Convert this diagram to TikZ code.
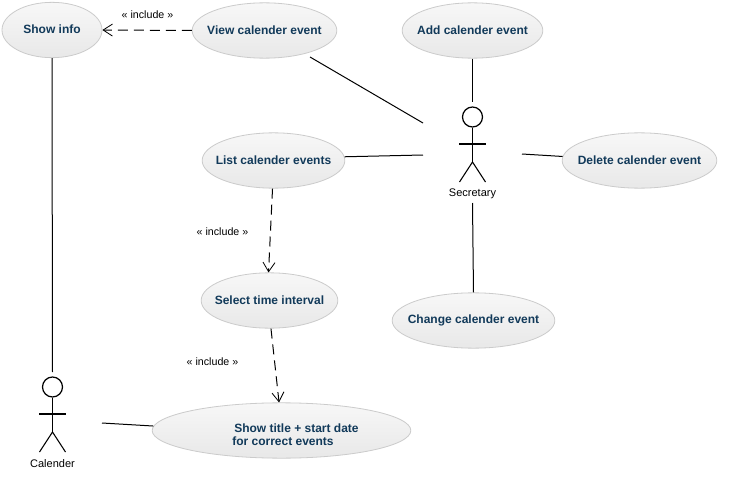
\documentclass[tikz,border=0pt]{standalone}
\usepackage{fontspec}
\setmainfont{Liberation Sans}
\usetikzlibrary{shapes.geometric,arrows.meta}
\definecolor{ucText}{HTML}{123A5A}
\definecolor{ucEdge}{HTML}{CBCBCB}
\newcommand{\casename}[1]{\raisebox{1pt}{\makebox[0pt][c]{#1}}}
\tikzset{
  x=0.75pt,y=-0.75pt,
  usecase/.style={ellipse,draw=ucEdge,line width=0.6pt,top color=white!97!black,bottom color=white!91!black,
     inner sep=0pt,text=ucText,font=\bfseries\fontsize{9}{10}\selectfont},
  caseText/.style={text=ucText,font=\bfseries\fontsize{9}{9.75}\selectfont,align=left,inner sep=0pt},
  assoc/.style={draw=black,line width=0.75pt},
  incl/.style={draw=black,line width=0.75pt,dash pattern=on 7.5pt off 4.5pt,-{Straight Barb[length=7pt,width=9pt,line width=0.6pt]}},
  stereo/.style={font=\fontsize{8}{9}\selectfont,inner sep=0pt},
  actorName/.style={font=\fontsize{8.25}{10}\selectfont,inner sep=0pt},
  head/.style={circle,draw=black,line width=0.9pt,minimum size=15pt,inner sep=0pt},
  limb/.style={draw=black,line width=0.8pt}
}
\begin{document}
\begin{tikzpicture}
\useasboundingbox[fill=white] (0,0) rectangle (736,492);
% use cases
\node[usecase,minimum width=75pt,minimum height=41.5pt] (info) at (52,30) {\casename{Show info}};
\node[usecase,minimum width=108.5pt,minimum height=41.5pt] (view) at (264.5,30.5) {\casename{View calender event}};
\node[usecase,minimum width=105.5pt,minimum height=41.5pt] (add) at (472.5,30.5) {\casename{Add calender event}};
\node[usecase,minimum width=107pt,minimum height=41.5pt] (list) at (273.5,160.5) {\casename{List calender events}};
\node[usecase,minimum width=116pt,minimum height=41.5pt] (delete) at (639.5,160.5) {\casename{Delete calender event}};
\node[usecase,minimum width=102.5pt,minimum height=41.5pt] (select) at (269.5,300.5) {\casename{Select time interval}};
\node[usecase,minimum width=122pt,minimum height=41.5pt] (change) at (473.5,320.5) {\casename{Change calender event}};
\node[usecase,minimum width=194pt,minimum height=41.5pt] (title) at (281.5,430.5) {};
\node[caseText,anchor=west] (titletext) at (232,434.5) {\,Show title + start date\\for correct events};
% Secretary actor
\node[head] (sechead) at (472.5,117) {};
\coordinate (secneck) at (472.5,162);
\draw[limb] (sechead.south) -- (secneck);
\draw[limb] (459,144) -- (485.5,144);
\draw[limb] (459.5,182) -- (secneck) -- (485.5,182);
\node[actorName] (secname) at (472.5,194) {Secretary};
\coordinate (sectop) at (472.5,102);
\coordinate (secbot) at (472.5,203);
\coordinate (secupleft) at (423,123);
\coordinate (secleft) at (423,155);
\coordinate (secright) at (522,154);
% Calender actor
\node[head] (calhead) at (52.5,387) {};
\coordinate (calneck) at (52.5,432);
\draw[limb] (calhead.south) -- (calneck);
\draw[limb] (39,414) -- (65.5,414);
\draw[limb] (39.5,452) -- (calneck) -- (65.5,452);
\node[actorName] (calname) at (52.5,463.5) {Calender};
\coordinate (caltop) at (52.5,372);
\coordinate (calright) at (102,423);
\coordinate (viewend) at (310,57);
% associations
\draw[assoc] (info.south) -- (caltop);
\draw[assoc] (viewend) -- (secupleft);
\draw[assoc] (add.south) -- (sectop);
\draw[assoc] (list.3) -- (secleft);
\draw[assoc] (delete.177) -- (secright);
\draw[assoc] (change.north) -- (secbot);
\draw[assoc] (calright) -- (title.178);
% includes
\draw[incl] (view.west) -- (info.east);
\draw[incl] (list.-92) -- (select.92);
\draw[incl] (select.-87) -- (title.95);
\node[stereo] (inc1) at (147.5,15) {« include »};
\node[stereo] (inc2) at (222.5,231.5) {« include »};
\node[stereo] (inc3) at (212.5,361.5) {« include »};
\end{tikzpicture}
\end{document}
